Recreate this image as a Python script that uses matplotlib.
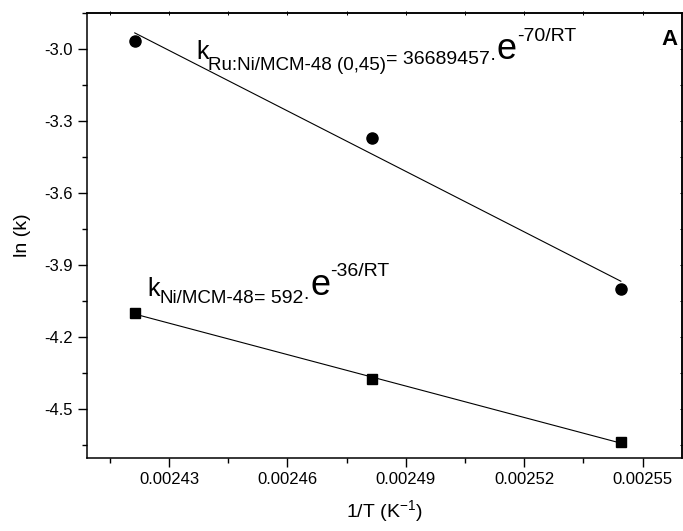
"""Arrhenius plot: ln(k) versus 1/T for Ru:Ni/MCM-48 and Ni/MCM-48."""
import matplotlib.pyplot as plt
import numpy as np
from matplotlib.ticker import FormatStrFormatter, MultipleLocator

plt.rcParams["font.family"] = ["Liberation Sans", "DejaVu Sans"]
plt.rcParams["axes.unicode_minus"] = False
plt.rcParams["mathtext.fontset"] = "custom"
plt.rcParams["mathtext.rm"] = "Liberation Sans"
plt.rcParams["mathtext.it"] = "Liberation Sans"

# data (1/T for 413, 403, 393 K)
inv_t = [0.0024213, 0.0024814, 0.0025445]
ln_k_ru = [-2.967, -3.371, -4.000]
ln_k_ni = [-4.100, -4.375, -4.638]

ru_label = [("k", 18, 0), ("Ru:Ni/MCM-48 (0,45)", 13.5, -7.9),
            ("= 36689457·", 14, -3.6), ("e", 26, 0), ("-70/RT", 14, 13)]
ni_label = [("k", 18, 0), ("Ni/MCM-48", 13.5, -5.0),
            ("= 592·", 14, -5.0), ("e", 26, 0.7), ("-36/RT", 14, 14.4)]


def rich_text(ax, x, y, pieces):
    prev = None
    for text, size, dy in pieces:
        if prev is None:
            prev = ax.annotate(text, xy=(x, y), xycoords="axes fraction",
                               xytext=(0, dy), textcoords="offset points",
                               fontsize=size, va="baseline")
        else:
            prev = ax.annotate(text, xy=(1, y), xycoords=(prev, "axes fraction"),
                               xytext=(0, dy), textcoords="offset points",
                               fontsize=size, va="baseline")


def fit_line(ax, x, y):
    slope, intercept = np.polyfit(x, y, 1)
    xs = np.array([min(x), max(x)])
    ax.plot(xs, slope * xs + intercept, color="black", lw=0.8)


fig = plt.figure(figsize=(6.83, 5.31), dpi=100)
ax = fig.add_axes([87 / 683, 1 - 458 / 531, 595 / 683, 445 / 531])

fit_line(ax, inv_t, ln_k_ru)
fit_line(ax, inv_t, ln_k_ni)
ax.plot(inv_t, ln_k_ru, "o", color="black", ms=8, ls="none")
ax.plot(inv_t, ln_k_ni, "s", color="black", ms=6.5, ls="none")

ax.set_xlim(0.0024092, 0.00256)
ax.set_ylim(-4.704, -2.85)
ax.xaxis.set_major_locator(MultipleLocator(0.00003))
ax.xaxis.set_minor_locator(MultipleLocator(0.000015))
ax.yaxis.set_major_locator(MultipleLocator(0.3))
ax.yaxis.set_minor_locator(MultipleLocator(0.15))
ax.xaxis.set_major_formatter(FormatStrFormatter("%.5f"))
ax.yaxis.set_major_formatter(FormatStrFormatter("%.1f"))

for side in ax.spines.values():
    side.set_linewidth(1.1)
ax.tick_params(which="both", direction="out", width=1.0, labelsize=12)
ax.tick_params(which="major", length=6.5)
ax.tick_params(which="minor", length=3.8)

# Origin-style tiny ticks on the opposite axes
sec_top = ax.secondary_xaxis("top")
sec_top.xaxis.set_major_locator(MultipleLocator(0.000015))
sec_top.tick_params(direction="inout", length=3, width=0.7, labeltop=False)
sec_top.spines["top"].set_linewidth(1.1)
sec_right = ax.secondary_yaxis("right")
sec_right.yaxis.set_major_locator(MultipleLocator(0.15))
sec_right.tick_params(direction="inout", length=3, width=0.7, labelright=False)
sec_right.spines["right"].set_linewidth(1.1)

ax.set_xlabel(r"1/T (K$^{\mathregular{-1}}$)", fontsize=14, labelpad=8)
ax.set_ylabel("ln (k)", fontsize=14, labelpad=10)

rich_text(ax, (196 - 87) / 595, (458 - 59) / 445, ru_label)
rich_text(ax, (147 - 87) / 595, (458 - 296) / 445, ni_label)
ax.text(0.993, (458 - 45) / 445, "A", transform=ax.transAxes, ha="right",
        va="baseline", fontsize=16, fontweight="bold")

fig.savefig("out.png", dpi=100)
